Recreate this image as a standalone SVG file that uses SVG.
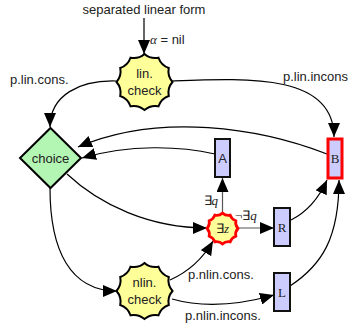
<svg xmlns="http://www.w3.org/2000/svg" xmlns:xlink="http://www.w3.org/1999/xlink" width="348" height="330" viewBox="0 0 348 330">
<style>
text{font-family:"Liberation Sans",Arial,sans-serif;font-size:13px;fill:#222}
.serif{font-family:"Liberation Serif","Times New Roman",serif}
.edge{fill:none;stroke:#000;stroke-width:1.2}
.grey{stroke:#555}
.box{fill:#ccccff;stroke:#111;stroke-width:2}
.star{fill:#ffff99;stroke:#000;stroke-width:2}
</style>
<defs>
<marker id="ah" viewBox="0 0 14 12" refX="14" refY="6" markerWidth="14" markerHeight="12" markerUnits="userSpaceOnUse" orient="auto">
<path d="M0,0 L14,6 L0,12 Z" fill="#000"/>
</marker>
<path id="seal" d="M0,-28 Q6.08,-22.7 14,-24.25 Q16.62,-16.62 24.25,-14 Q22.7,-6.08 28,0 Q22.7,6.08 24.25,14 Q16.62,16.62 14,24.25 Q6.08,22.7 0,28 Q-6.08,22.7 -14,24.25 Q-16.62,16.62 -24.25,14 Q-22.7,6.08 -28,0 Q-22.7,-6.08 -24.25,-14 Q-16.62,-16.62 -14,-24.25 Q-6.08,-22.7 0,-28 Z"/>
</defs>

<g id="connectors">
<path class="edge" d="M144,18 L144,54" marker-end="url(#ah)"/>
<path class="edge" d="M116,81 C80,80 50,95 50,127" marker-end="url(#ah)"/>
<path class="edge" d="M172,81 C250,78 334,74 334,137" marker-end="url(#ah)"/>
<path class="edge" d="M327,154 C260,128 160,112 78,147" marker-end="url(#ah)"/>
<path class="edge" d="M215,154 C180,146 130,144 82,158" marker-end="url(#ah)"/>
<path class="edge" d="M67,174 C100,205 150,228 207,228" marker-end="url(#ah)"/>
<path class="edge" d="M50,188 C50,250 70,291 117,291" marker-end="url(#ah)"/>
<path class="edge" d="M170,280 C188,272 202,260 213,241" marker-end="url(#ah)"/>
<path class="edge" d="M172,299 C200,307 235,306 274,295" marker-end="url(#ah)"/>
<path class="edge grey" d="M222.5,213 L222.5,178" marker-end="url(#ah)"/>
<path class="edge grey" d="M238,228 L274,228" marker-end="url(#ah)"/>
<path class="edge" d="M291,220 C305,213 318,200 327,180" marker-end="url(#ah)"/>
<path class="edge" d="M290,286 C322,265 339,238 339,180" marker-end="url(#ah)"/>
<text x="144" y="14" text-anchor="middle">separated linear form</text>
<text x="150" y="44"><tspan font-style="italic" class="serif">α</tspan> = nil</text>
<text x="10" y="84">p.lin.cons.</text>
<text x="283" y="81">p.lin.incons</text>
<text x="218" y="205" text-anchor="end" class="serif"><tspan>∃</tspan><tspan font-style="italic">q</tspan></text>
<text x="235" y="220" class="serif">¬∃<tspan font-style="italic">q</tspan></text>
<text x="188" y="279">p.nlin.cons.</text>
<text x="185" y="320">p.nlin.incons.</text>
</g>

<g id="lincheck">
<use xlink:href="#seal" href="#seal" class="star" transform="translate(144.5,82)"/>
<text x="144.5" y="78" text-anchor="middle">lin.</text>
<text x="144.5" y="95" text-anchor="middle">check</text>
</g>

<g id="choice">
<polygon points="50.5,128 81,158 50.5,188 20,158" fill="#b3f5b3" stroke="#000" stroke-width="2"/>
<text x="50.5" y="163" text-anchor="middle">choice</text>
</g>

<g id="A">
<rect class="box" x="215" y="139" width="15" height="38"/>
<text x="222.5" y="163" text-anchor="middle" font-size="12">A</text>
</g>

<g id="B">
<rect class="box" x="328" y="139" width="14" height="39" style="stroke:#ff0000;stroke-width:3"/>
<text x="335" y="163" text-anchor="middle" class="serif" font-size="13">B</text>
</g>

<g id="exz">
<use xlink:href="#seal" href="#seal" transform="translate(222.5,228.5) scale(0.55)" style="fill:#ffff99;stroke:#ff0000;stroke-width:5"/>
<text x="222.5" y="233" text-anchor="middle" class="serif">∃<tspan font-style="italic">z</tspan></text>
</g>

<g id="R">
<rect class="box" x="274" y="208" width="16" height="38"/>
<text x="282" y="232" text-anchor="middle" class="serif">R</text>
</g>

<g id="L">
<rect class="box" x="274" y="273" width="16" height="38"/>
<text x="282" y="297" text-anchor="middle" class="serif">L</text>
</g>

<g id="nlincheck">
<use xlink:href="#seal" href="#seal" class="star" transform="translate(144.5,291)"/>
<text x="144.5" y="287" text-anchor="middle">nlin.</text>
<text x="144.5" y="304" text-anchor="middle">check</text>
</g>
</svg>
